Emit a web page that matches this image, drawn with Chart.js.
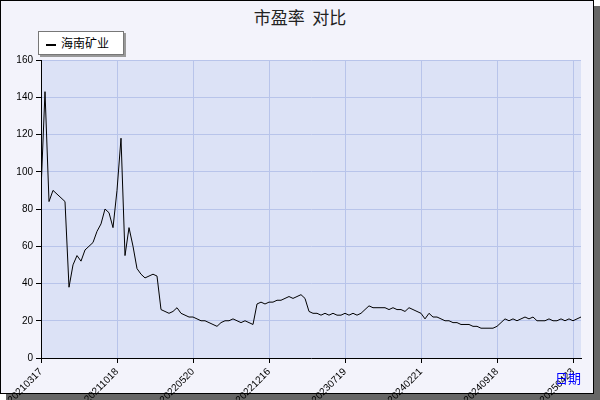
<!DOCTYPE html>
<html><head><meta charset="utf-8">
<script src="https://cdn.jsdelivr.net/npm/chart.js@4"></script>
<style>
body{margin:0;background:#fff;font-family:"DejaVu Sans",sans-serif;}
#wrap{position:absolute;left:0;top:0;width:592px;height:392px;background:#f3f3fb;border:1px solid #000;box-shadow:6px 6px 0 #666;}
#title{position:absolute;left:0;top:4px;width:600px;text-align:center;font-size:17px;font-family:"Noto Sans CJK SC";color:#222;}
#legend{position:absolute;left:38px;top:31px;width:84px;height:22px;border:1px solid #777;background:#fff;box-shadow:2px 2px 0 #999;font-size:12px;font-family:"Noto Sans CJK SC";line-height:22px;}
#legend span{display:inline-block;width:10px;height:2px;background:#000;vertical-align:middle;margin:0 5px 0 7px;}
#xt{position:absolute;left:555px;top:368px;color:#00f;font-size:13px;font-family:"Noto Sans CJK SC";}
canvas{position:absolute;left:0;top:0;}
</style></head><body>
<div id="wrap"></div>
<div id="title">市盈率&nbsp;&nbsp;对比</div>
<div id="legend"><span></span>海南矿业</div>
<canvas id="c" width="600" height="400"></canvas>
<div id="xt">日期</div>
<script>
const seriesName = "海南矿业";
const peValues = [90,143,84,90,88,86,84,38,50,55,52,58,60,62,68,72,80,78,70,90,118,55,70,60,48,45,43,44,45,44,
26,25,24,25,27,24,23,22,22,21,20,20,19,18,17,19,20,20,21,20,19,20,19,18,29,30,29,30,30,31,
31,32,33,32,33,34,32,25,24,24,23,24,23,24,23,23,24,23,24,23,
24,26,28,27,27,27,27,26,27,26,26,25,27,26,25,24,21,24,22,22,
21,20,20,19,19,18,18,18,17,17,16,16,16,16,17,19,21,20,21,20,
21,22,21,22,20,20,20,21,20,20,21,20,21,20,21,22];
const tickIndex = [0,19,38,57,76,95,114,133];
const tickLabels = ["20210317","20211018","20220520","20221216","20230719","20240221","20240918","20250423"];
const yTicks = [0,20,40,60,80,100,120,140,160];
const pts = peValues.map((v,i)=>({x:i,y:v}));
const bgPlugin={id:'bg',beforeDraw(c){const a=c.chartArea,g=c.ctx;g.save();g.fillStyle='#dce2f6';g.fillRect(a.left,a.top,a.right-a.left,a.bottom-a.top);g.restore();}};
new Chart(document.getElementById('c'),{type:'line',
data:{datasets:[{label:seriesName,data:pts,borderColor:'#000',borderWidth:1,pointRadius:0,tension:0}]},
options:{responsive:false,animation:false,
layout:{padding:{left:0,right:19,top:60,bottom:0}},
plugins:{legend:{display:false},tooltip:{enabled:false}},
scales:{
x:{type:'linear',min:0,max:135,
 afterBuildTicks(s){s.ticks=tickIndex.map(v=>({value:v}));},
 afterFit(s){s.height=42;},
 ticks:{autoSkip:false,maxRotation:45,minRotation:45,color:'#000',font:{size:10},callback:(v)=>{const k=tickIndex.indexOf(v);return k>=0?tickLabels[k]:'';}},
 grid:{color:'#b8c4ea',drawTicks:true,tickColor:'#000',tickLength:5},border:{color:'#000'}},
y:{min:0,max:160,
 afterBuildTicks(s){s.ticks=yTicks.map(v=>({value:v}));},
 ticks:{color:'#000',font:{size:10}},
 grid:{color:'#b8c4ea',tickColor:'#000',tickLength:5},border:{color:'#000'},afterFit(s){s.width=41;}}
}},plugins:[bgPlugin]});
</script></body></html>
